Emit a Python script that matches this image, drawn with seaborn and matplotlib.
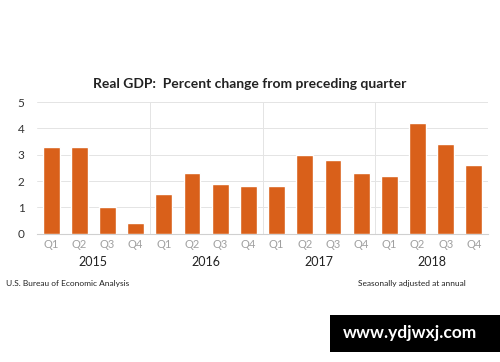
import pandas as pd
import seaborn as sns
import matplotlib.pyplot as plt
from matplotlib.patches import Rectangle

# Data
quarters = ['Q1', 'Q2', 'Q3', 'Q4'] * 4
years = ['2015', '2016', '2017', '2018']
gdp = [3.3, 3.3, 1.0, 0.4,
       1.5, 2.3, 1.9, 1.8,
       1.8, 3.0, 2.8, 2.3,
       2.2, 4.2, 3.4, 2.6]

df = pd.DataFrame({'idx': list(range(len(gdp))), 'quarter': quarters, 'gdp': gdp})

sns.set_style('white')
plt.rcParams['font.family'] = ['Lato', 'DejaVu Sans']

fig = plt.figure(figsize=(5, 3.62), dpi=100)
ax = fig.add_axes([0.074, 0.354, 0.902, 0.364])

sns.barplot(data=df, x='idx', y='gdp', color='#D9601A', saturation=1,
            width=0.6, ax=ax, zorder=3)

ax.set_ylim(0, 5)
ax.set_yticks([0, 1, 2, 3, 4, 5])
ax.set_xlim(-0.5, len(gdp) - 0.5)
ax.yaxis.grid(True, color='#e4e4e4', linewidth=0.7, zorder=0)
for xv in [3.5, 7.5, 11.5]:
    ax.axvline(xv, color='#e4e4e4', linewidth=0.7, zorder=0)

for s in ['top', 'right', 'left']:
    ax.spines[s].set_visible(False)
ax.spines['bottom'].set_color('#d0d0d0')

ax.set_xticks(range(len(gdp)))
ax.set_xticklabels(quarters, color='#a0a0a0', fontsize=8)
ax.tick_params(axis='y', labelsize=8.5, colors='#333333', length=0, pad=9)
ax.tick_params(axis='x', length=0, pad=4)
ax.set_xlabel('')
ax.set_ylabel('')

for i, yr in enumerate(years):
    ax.text(i * 4 + 1.5, -0.21, yr, transform=ax.get_xaxis_transform(),
            ha='center', va='center', fontsize=9, color='#222222')

fig.text(0.5, 0.768, 'Real GDP:  Percent change from preceding quarter',
         ha='center', va='center', fontsize=10, fontweight='bold', color='#222222')
fig.text(0.012, 0.218, 'U.S. Bureau of Economic Analysis', fontsize=6,
         ha='left', va='center', color='#222222')
fig.text(0.716, 0.218, 'Seasonally adjusted at annual', fontsize=6,
         ha='left', va='center', color='#222222')

# watermark box
fig.patches.append(Rectangle((0.66, 0.028), 0.34, 0.102, transform=fig.transFigure,
                             facecolor='black', edgecolor='none'))
fig.text(0.82, 0.08, 'www.ydjwxj.com', fontsize=12.5, fontweight='bold',
         ha='center', va='center', color='white')

fig.savefig('out.png', dpi=100)
